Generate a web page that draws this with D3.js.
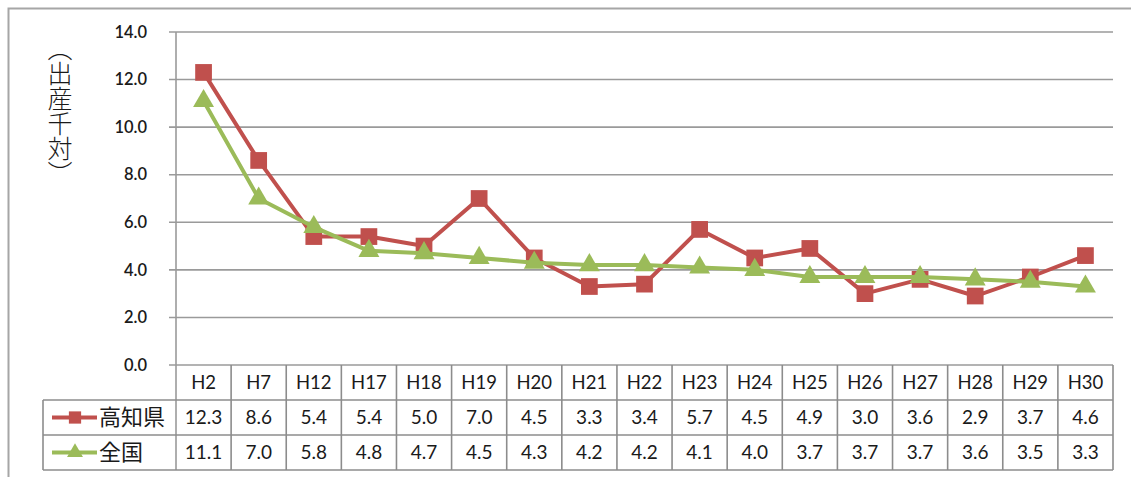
<!DOCTYPE html>
<html>
<head>
<meta charset="utf-8">
<script src="https://cdn.jsdelivr.net/npm/d3@7"></script>
<style>
  body { margin: 0; background: #fff; }
  svg text { font-family: Lato, "Open Sans", sans-serif; fill: #1a1a1a; }
  .jp { font-family: "Noto Sans CJK JP", sans-serif; }
</style>
</head>
<body>
<svg id="chart" width="1131" height="477"></svg>
<script>
// categories & series
const years = ["H2","H7","H12","H17","H18","H19","H20","H21","H22","H23","H24","H25","H26","H27","H28","H29","H30"];
const kochi = [12.3,8.6,5.4,5.4,5.0,7.0,4.5,3.3,3.4,5.7,4.5,4.9,3.0,3.6,2.9,3.7,4.6];
const zenkoku = [11.1,7.0,5.8,4.8,4.7,4.5,4.3,4.2,4.2,4.1,4.0,3.7,3.7,3.7,3.6,3.5,3.3];
const yTicks = [0,2,4,6,8,10,12,14];

const series = [
  { name: "高知県", values: kochi, color: "#C0504D", marker: "square" },
  { name: "全国", values: zenkoku, color: "#9BBB59", marker: "triangle" }
];

const svg = d3.select("#chart");

const plotL = 176, plotR = 1113, plotT = 32, plotB = 365;
const rowH = 35;

const x = d3.scaleBand().domain(years).range([plotL, plotR]);
const y = d3.scaleLinear().domain([0, 14]).range([plotB, plotT]);

// outer frame (only top & left visible)
svg.append("path")
  .attr("d", `M8.5,477 V8.5 H1131`)
  .attr("fill", "none").attr("stroke", "#a6a6a6").attr("stroke-width", 2);

// gridlines
svg.append("g").selectAll("line")
  .data(yTicks)
  .join("line")
    .attr("x1", plotL - 7).attr("x2", plotR)
    .attr("y1", d => y(d)).attr("y2", d => y(d))
    .attr("stroke", "#9a9a9a").attr("stroke-width", 1.6);

// y axis line
svg.append("line")
  .attr("x1", plotL).attr("x2", plotL).attr("y1", plotT).attr("y2", plotB + rowH * 3)
  .attr("stroke", "#9a9a9a").attr("stroke-width", 1.6);

// y tick labels
svg.append("g").selectAll("text")
  .data(yTicks)
  .join("text")
    .attr("x", 147).attr("y", d => y(d))
    .attr("dy", "0.35em")
    .attr("text-anchor", "end")
    .style("font-size", "16.5px")
    .style("font-weight", 600)
    .text(d => d.toFixed(1));

// y axis title, vertical
svg.append("text")
  .attr("class", "jp")
  .attr("x", 60).attr("y", 111)
  .attr("text-anchor", "middle")
  .style("writing-mode", "vertical-rl")
  .style("font-size", "25px")
  .style("font-weight", 300)
  .text("（出産千対）");

// data table
const table = svg.append("g");
const tableStroke = "#8c8c8c";
[plotB + rowH, plotB + rowH * 2, plotB + rowH * 3].forEach(yy => {
  table.append("line")
    .attr("x1", 43).attr("x2", plotR).attr("y1", yy).attr("y2", yy)
    .attr("stroke", tableStroke).attr("stroke-width", 1.6);
});
table.append("line")
  .attr("x1", 43).attr("x2", 43).attr("y1", plotB + rowH).attr("y2", plotB + rowH * 3)
  .attr("stroke", tableStroke).attr("stroke-width", 1.6);
table.selectAll(".col")
  .data(years)
  .join("line")
    .attr("class", "col")
    .attr("x1", d => x(d) + x.bandwidth()).attr("x2", d => x(d) + x.bandwidth())
    .attr("y1", plotB).attr("y2", plotB + rowH * 3)
    .attr("stroke", tableStroke).attr("stroke-width", 1.6);

table.selectAll(".hdr")
  .data(years)
  .join("text")
    .attr("class", "hdr")
    .attr("x", d => x(d) + x.bandwidth() / 2)
    .attr("y", plotB + rowH / 2).attr("dy", "0.35em")
    .attr("text-anchor", "middle")
    .style("font-size", "18.5px")
    .text(d => d);

const markerSym = m => m === "square"
  ? d3.symbol().type(d3.symbolSquare).size(280)()
  : d3.symbol().type(d3.symbolTriangle).size(190)();

series.forEach((s, i) => {
  const cy = plotB + rowH * (i + 1.5);
  table.selectAll(".v" + i)
    .data(s.values)
    .join("text")
      .attr("x", (d, j) => x(years[j]) + x.bandwidth() / 2)
      .attr("y", cy).attr("dy", "0.35em")
      .attr("text-anchor", "middle")
      .style("font-size", "19px")
      .text(d => d.toFixed(1));
  // legend key
  table.append("line")
    .attr("x1", 52).attr("x2", 97).attr("y1", cy).attr("y2", cy)
    .attr("stroke", s.color).attr("stroke-width", 4);
  table.append("path")
    .attr("d", s.marker === "square"
      ? d3.symbol().type(d3.symbolSquare).size(150)()
      : d3.symbol().type(d3.symbolTriangle).size(110)())
    .attr("transform", `translate(75,${cy})`)
    .attr("fill", s.color);
  table.append("text")
    .attr("class", "jp")
    .attr("x", 99).attr("y", cy).attr("dy", "0.35em")
    .style("font-size", "22px")
    .text(s.name);
});

// lines and markers
const line = d3.line()
  .x((d, j) => x(years[j]) + x.bandwidth() / 2)
  .y(d => y(d));

series.forEach(s => {
  svg.append("path")
    .datum(s.values)
    .attr("d", line)
    .attr("fill", "none")
    .attr("stroke", s.color)
    .attr("stroke-width", 4)
    .attr("stroke-linejoin", "round");
  svg.append("g").selectAll("path")
    .data(s.values)
    .join("path")
      .attr("d", markerSym(s.marker))
      .attr("transform", (d, j) => `translate(${x(years[j]) + x.bandwidth() / 2},${y(d)})`)
      .attr("fill", s.color);
});
</script>
</body>
</html>
